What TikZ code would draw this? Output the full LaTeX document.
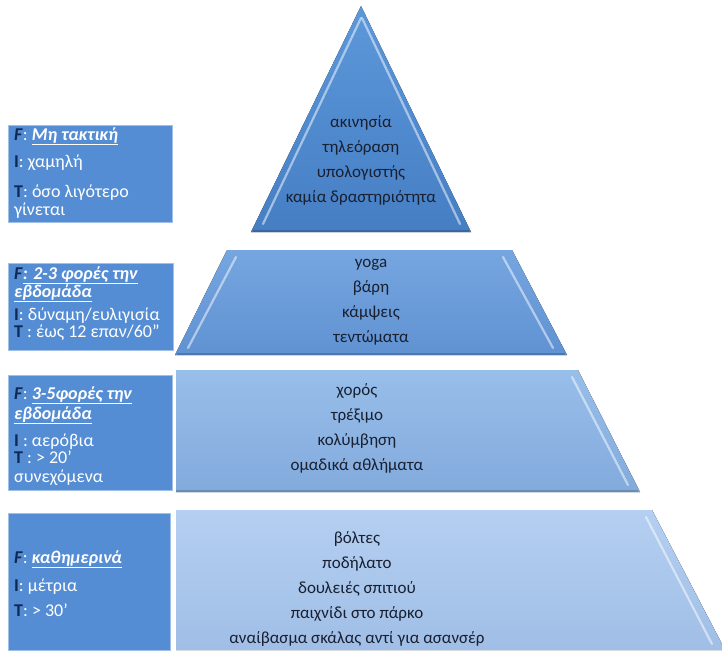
\documentclass[tikz,border=0pt]{standalone}
\usepackage{fontspec}
\setmainfont{Carlito}
\usetikzlibrary{calc}
\usetikzlibrary{positioning}

\definecolor{boxblue}{RGB}{84,141,212}
\definecolor{labelnavy}{RGB}{16,40,84}
\definecolor{layerink}{RGB}{24,32,50}
\definecolor{triA}{RGB}{92,152,218}
\definecolor{triB}{RGB}{70,126,196}
\definecolor{twoA}{RGB}{118,166,224}
\definecolor{twoB}{RGB}{96,146,210}
\definecolor{threeA}{RGB}{152,190,234}
\definecolor{threeB}{RGB}{130,170,220}
\definecolor{fourA}{RGB}{180,207,241}
\definecolor{fourB}{RGB}{160,190,230}

\tikzset{
  infobox/.style={fill=boxblue, draw=boxblue!55!white, line width=0.8pt},
  % base = baseline of the last line
  infotext/.style={anchor=base west, inner sep=0pt, align=left, text=white,
    font=\fontsize{18}{19}\selectfont},
  layertext/.style={anchor=base, inner sep=0pt, align=center, text=layerink,
    font=\fontsize{17}{25}\selectfont},
  bevel/.style={white, opacity=0.5, line width=2.2pt, line cap=round},
  shade/.style={black, opacity=0.18, line width=2pt},
}
\newcommand{\lab}[1]{\textcolor{labelnavy}{\textbf{#1}}}
\newcommand{\freq}[1]{\underline{\textbf{\textit{#1}}}}

\begin{document}
\begin{tikzpicture}[x=1pt,y=-1pt]
  \useasboundingbox (0,0) rectangle (722,650);
  \fill[white] (0,0) rectangle (722,650);

  % pyramid
  \fill[top color=triA, bottom color=triB] (361,6) -- (471,232) -- (251,232) -- cycle;
  \draw[bevel] (361,18) -- (263,224);
  \draw[bevel] (362,18) -- (460,224);
  \draw[shade] (253,231) -- (469,231);

  \fill[top color=twoA, bottom color=twoB] (227,250) -- (512,250) -- (567,355) -- (175,355) -- cycle;
  \draw[bevel] (236,257) -- (188,348);
  \draw[bevel] (503,257) -- (553,348);
  \draw[shade] (177,354) -- (565,354);

  \fill[top color=threeA, bottom color=threeB] (176,370) -- (578,370) -- (640,492) -- (176,492) -- cycle;
  \draw[bevel] (572,377) -- (628,485);
  \draw[shade] (176,491) -- (638,491);

  \fill[top color=fourA, bottom color=fourB] (176,510) -- (652,510) -- (722,644) -- (722,650) -- (176,650) -- cycle;
  \draw[bevel] (646,517) -- (712,644);

  % pyramid texts
  \node[layertext] (sit) at (361,202) {ακινησία\\τηλεόραση\\υπολογιστής\\καμία δραστηριότητα};
  \node[layertext] (stretch) at (371,342) {yoga\\βάρη\\κάμψεις\\τεντώματα};
  \node[layertext] (cardio) at (357,470) {χορός\\τρέξιμο\\κολύμβηση\\ομαδικά αθλήματα};
  \node[layertext] (walk) at (357,643) {βόλτες\\ποδήλατο\\δουλειές σπιτιού\\παιχνίδι στο πάρκο\\αναίβασμα σκάλας αντί για ασανσέρ};

  % side boxes
  \draw[infobox] (8,125) rectangle (172,222);
  \draw[infobox] (8,263) rectangle (173,350);
  \draw[infobox] (8,375) rectangle (172,490);
  \draw[infobox] (8,513) rectangle (170,650);

  \node[infotext] (rarely) at (14,215) {\lab{\textit{F}}: \freq{Μη τακτική}\\[8pt]
    \lab{I}: χαμηλή\\[11pt]
    \lab{T}: όσο λιγότερο\\[-1pt]
    γίνεται};
  \node[infotext] (twice) at (14,337) {\lab{\textit{F}}\freq{: 2-3 φορές την}\\[-1pt]
    \freq{εβδομάδα}\\[4pt]
    \lab{I}: δύναμη/ευλιγισία\\[-2pt]
    \lab{T} : έως 12 επαν/60''};
  \node[infotext] (thrice) at (14,482) {\lab{\textit{F}}: \freq{3-5φορές την}\\[1pt]
    \freq{εβδομάδα}\\[8pt]
    \lab{I} : αερόβια\\[-2pt]
    \lab{T} : > 20'\\[0pt]
    συνεχόμενα};
  \node[infotext] (daily) at (14,616) {\lab{\textit{F}}: \freq{καθημερινά}\\[9pt]
    \lab{I}: μέτρια\\[6pt]
    \lab{T}: > 30'};
\end{tikzpicture}
\end{document}
